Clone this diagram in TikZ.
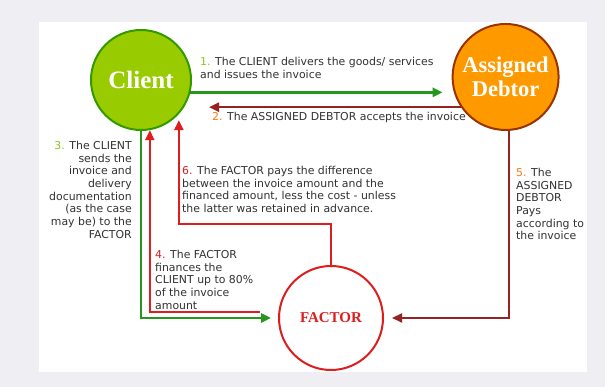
\documentclass[tikz,border=0pt]{standalone}
\usepackage{fontspec}
\setmainfont{DejaVu Sans}
\newfontfamily\headfont{Liberation Serif}
\usetikzlibrary{arrows.meta}

\definecolor{pagegray}{RGB}{238,238,243}
\definecolor{clientfill}{RGB}{153,204,0}
\definecolor{clientline}{RGB}{51,153,0}
\definecolor{debtorfill}{RGB}{255,153,0}
\definecolor{debtorline}{RGB}{153,51,0}
\definecolor{flowgreen}{RGB}{40,150,30}
\definecolor{flowred}{RGB}{220,30,30}
\definecolor{flowbrown}{RGB}{150,35,35}
\definecolor{notegray}{RGB}{50,50,50}
\definecolor{numgreen}{RGB}{140,200,30}
\definecolor{numorange}{RGB}{255,120,20}

\tikzset{
    party/.style={circle,line width=2pt,inner sep=0pt},
    headtext/.style={font=\headfont\bfseries,text=white,align=center},
    note/.style={font=\fontsize{10.9}{12.7}\selectfont,text=notegray,inner sep=0pt},
    flow/.style={line width=2.6pt,-{Triangle[length=10pt,width=9pt]}},
}

\begin{document}
\begin{tikzpicture}[x=1pt,y=1pt]
\useasboundingbox (0,0) rectangle (605,387);
\fill[pagegray] (0,0) rectangle (605,387);
\fill[white] (38.6,15.3) rectangle (587,365.3);

% the three parties
\node[party,draw=clientline,fill=clientfill,minimum size=100pt,
      headtext,font=\headfont\bfseries\fontsize{25}{26}\selectfont] (client) at (141,307) {Client};
\node[party,draw=debtorline,fill=debtorfill,minimum size=106pt,
      headtext,font=\headfont\bfseries\fontsize{22.5}{24}\selectfont] (debtor) at (505.6,310) {Assigned\\Debtor};
\node[party,draw=flowred,fill=white,minimum size=104pt,
      font=\headfont\bfseries\fontsize{15}{17}\selectfont,text=flowred] (factor) at (331,69) {FACTOR};

% flows
\draw[flow,flowgreen,shorten >=9pt] (client.-14) -- (client.-14 -| debtor.west);
\draw[flow,flowbrown,line width=2.2pt,shorten >=17pt] (debtor.214) -- (debtor.214 -| client.east);
\draw[flow,flowgreen,shorten >=7pt] (client.south) |- (factor.west);
\coordinate (fourstart) at ([shift={(-18,6)}]factor.west);
\draw[flow,flowred,line width=2.2pt] (fourstart) -| (client.-80);
\draw[flow,flowred,line width=2.2pt,shorten >=6pt] (factor.north) -- ++(0,41) -| (client.-42);
\draw[flow,flowbrown,line width=2.2pt,shorten >=8pt] (debtor.-86) |- (factor.east);

% notes
\node[note,anchor=north west,align=left] (noteone) at (200,330)
    {\textcolor{numgreen}{1.} The CLIENT delivers the goods/ services\\and issues the invoice};
\node[note,anchor=west] (notetwo) at (212,269)
    {\textcolor{numorange}{2.} The ASSIGNED DEBTOR accepts the invoice};
\node[note,anchor=north east,align=right] (notethree) at (132,246)
    {\textcolor{numgreen}{3.} The CLIENT\\sends the\\invoice and\\delivery\\documentation\\(as the case\\may be) to the\\FACTOR};
\node[note,anchor=north west,align=left] (notefour) at (155,137)
    {\textcolor{flowred}{4.} The FACTOR\\finances the\\CLIENT up to 80\%\\of the invoice\\amount};
\node[note,anchor=north west,align=left] (notefive) at (516,219)
    {\textcolor{numorange}{5.} The\\ASSIGNED\\DEBTOR\\Pays\\according to\\the invoice};
\node[note,anchor=north west,align=left] (notesix) at (182,221)
    {\textcolor{flowred}{6.} The FACTOR pays the difference\\between the invoice amount and the\\financed amount, less the cost - unless\\the latter was retained in advance.};
\end{tikzpicture}
\end{document}
